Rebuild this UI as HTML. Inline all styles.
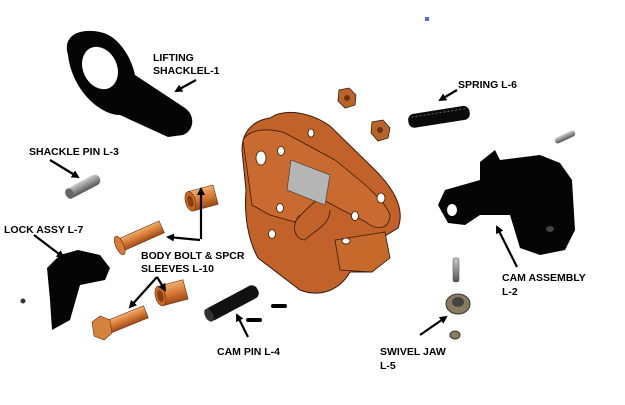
<!DOCTYPE html>
<html><head><meta charset="utf-8"><style>
html,body{margin:0;padding:0;background:#fff;width:625px;height:405px;overflow:hidden}
svg{display:block}
text{font-family:"Liberation Sans",sans-serif;font-weight:bold;font-size:10.5px;fill:#000}
</style></head><body>
<svg width="625" height="405" viewBox="0 0 625 405" xmlns="http://www.w3.org/2000/svg">
<defs>
<marker id="ah" markerWidth="8" markerHeight="8" refX="6" refY="4" orient="auto" markerUnits="userSpaceOnUse"><path d="M0,0 L8,4 L0,8 Z" fill="#000"/></marker>
<linearGradient id="cu" x1="0" y1="0" x2="0" y2="1"><stop offset="0" stop-color="#f0b070"/><stop offset="0.5" stop-color="#d77a35"/><stop offset="1" stop-color="#9c4a18"/></linearGradient>
<linearGradient id="gr" x1="0" y1="0" x2="0" y2="1"><stop offset="0" stop-color="#ccc"/><stop offset="1" stop-color="#555"/></linearGradient>
</defs>
<rect x="425" y="17" width="4" height="4" fill="#4a6cf0"/>
<!-- shackle -->
<path d="M68,55 C62,35 80,28 100,32 C120,36 132,60 135,75 L185,108 C195,115 195,130 183,135 L168,137 L120,115 C100,115 72,90 68,55 Z" fill="#050505"/>
<ellipse cx="100" cy="68" rx="17" ry="22" transform="rotate(-25 100 68)" fill="#fff"/>
<!-- shackle pin -->
<g transform="rotate(-28 83 187)"><rect x="66" y="181" width="36" height="11" rx="5" fill="url(#gr)"/><ellipse cx="68" cy="186.5" rx="4" ry="5.5" fill="#666"/></g>
<!-- lock assy -->
<path d="M47,268 L60,255 L78,250 L100,255 L110,268 L105,280 L80,285 L70,320 L52,330 L50,300 Z" fill="#050505"/>
<circle cx="23" cy="301" r="2.5" fill="#333"/>
<!-- upper bolt -->
<g transform="rotate(-24 140 237)"><rect x="118" y="230" width="46" height="13" fill="url(#cu)" stroke="#6a3010" stroke-width="0.6"/><ellipse cx="118" cy="236.5" rx="4" ry="10" fill="#d57a3a" stroke="#6a3010" stroke-width="0.6"/></g>
<!-- upper sleeve -->
<g transform="rotate(-15 203 198)"><rect x="190" y="188" width="26" height="20" fill="url(#cu)" stroke="#6a3010" stroke-width="0.6"/><ellipse cx="190" cy="198" rx="5" ry="10" fill="#c8692a" stroke="#6a3010" stroke-width="0.6"/><ellipse cx="190" cy="198" rx="3" ry="6" fill="#8a3e12"/></g>
<!-- lower sleeve -->
<g transform="rotate(-15 172 293)"><rect x="160" y="283" width="26" height="20" fill="url(#cu)" stroke="#6a3010" stroke-width="0.6"/><ellipse cx="160" cy="293" rx="5" ry="10" fill="#c8692a" stroke="#6a3010" stroke-width="0.6"/><ellipse cx="160" cy="293" rx="3" ry="6" fill="#8a3e12"/></g>
<!-- lower bolt -->
<g transform="rotate(-22 122 322)"><rect x="102" y="315" width="46" height="13" fill="url(#cu)" stroke="#6a3010" stroke-width="0.6"/></g>
<polygon points="92,322 100,316 110,320 112,333 104,340 94,336" fill="#d5823f" stroke="#6a3010" stroke-width="0.6"/>
<!-- cam pin -->
<g transform="rotate(-28 232 303)"><rect x="203" y="296" width="58" height="14" rx="6" fill="#111"/><ellipse cx="206" cy="303" rx="4" ry="7" fill="#333"/></g>
<rect x="271" y="304" width="16" height="4" rx="2" fill="#000"/>
<rect x="246" y="318" width="16" height="4" rx="2" fill="#000"/>
<!-- body -->
<path d="M270,118 C285,108 310,112 330,126 L375,170 C395,190 405,210 398,228 L385,236 L388,258 L372,272 L350,272 C340,290 320,298 300,290 L258,258 C248,240 244,215 246,190 L242,150 C242,130 255,120 270,118 Z" fill="#c0622a" stroke="#3a1a08" stroke-width="1"/>
<path d="M243,140 C250,128 270,128 285,133 L335,160 C360,180 385,200 390,215 C390,228 378,232 366,222 L342,210 L320,198 C310,205 300,215 295,222 L270,215 L252,205 Z" fill="#c96a30" stroke="#3a1a08" stroke-width="0.8"/>
<polygon points="291,160 330,175 325,205 287,190" fill="#b5b5b5" stroke="#333" stroke-width="0.6"/>
<path d="M335,240 L385,232 L390,258 L372,272 L340,270 Z" fill="#c66a2c" stroke="#3a1a08" stroke-width="0.8"/>
<path d="M300,215 C290,225 295,240 305,240 C315,230 330,225 330,210" fill="none" stroke="#3a1a08" stroke-width="0.8"/>
<g fill="#fff" stroke="#3a1a08" stroke-width="0.8"><ellipse cx="261" cy="158" rx="5" ry="7"/><ellipse cx="281" cy="151" rx="3.5" ry="4.5"/><ellipse cx="311" cy="133" rx="3" ry="4"/><ellipse cx="381" cy="198" rx="4" ry="5"/><ellipse cx="355" cy="216" rx="3.5" ry="4.5"/><ellipse cx="280" cy="208" rx="3.5" ry="4.5"/><ellipse cx="272" cy="234" rx="3.5" ry="4.5"/><ellipse cx="346" cy="241" rx="4" ry="3"/></g>
<!-- nuts -->
<g fill="#b8652c" stroke="#3a1a08" stroke-width="0.8"><polygon points="339,90 349,88 356,95 355,105 345,108 338,101"/><polygon points="372,122 383,120 390,128 388,138 378,141 371,133"/></g>
<circle cx="347" cy="98" r="3" fill="#6a3010"/><circle cx="380" cy="130" r="3" fill="#6a3010"/>
<!-- spring -->
<g transform="rotate(-9 438 117)"><rect x="408" y="110" width="62" height="14" rx="6" fill="#0a0a0a"/><line x1="412" y1="113" x2="466" y2="113" stroke="#777" stroke-width="0.8" stroke-dasharray="2 2"/></g>
<!-- small pin -->
<g transform="rotate(-25 565 137)"><rect x="554" y="134" width="22" height="6" rx="3" fill="url(#gr)"/></g>
<!-- cam assembly -->
<path d="M480,162 L495,150 L500,160 L540,155 L560,163 L572,180 L575,230 L565,250 L540,255 L520,248 L510,215 L480,215 L465,225 L448,223 L438,205 L445,190 L480,180 Z" fill="#050505"/>
<ellipse cx="452" cy="210" rx="5" ry="6" fill="#fff"/>
<ellipse cx="550" cy="229" rx="4" ry="3" fill="#444"/>
<!-- swivel -->
<rect x="453" y="258" width="6" height="24" rx="2" fill="url(#gr)" stroke="#444" stroke-width="0.5"/>
<ellipse cx="458" cy="304" rx="12" ry="10" fill="#8a7a60" stroke="#333"/>
<ellipse cx="458" cy="302" rx="6" ry="5" fill="#444"/>
<ellipse cx="455" cy="335" rx="5" ry="4" fill="#8a7a60" stroke="#333"/>
<!-- arrows -->
<g stroke="#000" stroke-width="2.2" fill="none" marker-end="url(#ah)">
<line x1="196" y1="80" x2="176" y2="91"/>
<line x1="50" y1="160" x2="78" y2="177"/>
<line x1="34" y1="235" x2="63" y2="257"/>
<line x1="200" y1="240" x2="168" y2="237"/>
<line x1="201" y1="239" x2="201" y2="189"/>
<line x1="157" y1="277" x2="130" y2="307"/>
<line x1="157" y1="277" x2="165" y2="290"/>
<line x1="248" y1="337" x2="237" y2="315"/>
<line x1="457" y1="90" x2="440" y2="100"/>
<line x1="517" y1="267" x2="497" y2="227"/>
<line x1="420" y1="335" x2="446" y2="317"/>
</g>
<!-- labels -->
<text x="153" y="61">LIFTING</text>
<text x="153" y="74">SHACKLEL-1</text>
<text x="458" y="88">SPRING L-6</text>
<text x="29" y="155">SHACKLE PIN L-3</text>
<text x="4" y="233">LOCK ASSY L-7</text>
<text x="141" y="259">BODY BOLT &amp; SPCR</text>
<text x="141" y="272">SLEEVES L-10</text>
<text x="502" y="281">CAM ASSEMBLY</text>
<text x="502" y="295">L-2</text>
<text x="217" y="355">CAM PIN L-4</text>
<text x="380" y="355">SWIVEL JAW</text>
<text x="380" y="369">L-5</text>
</svg>
</body></html>
